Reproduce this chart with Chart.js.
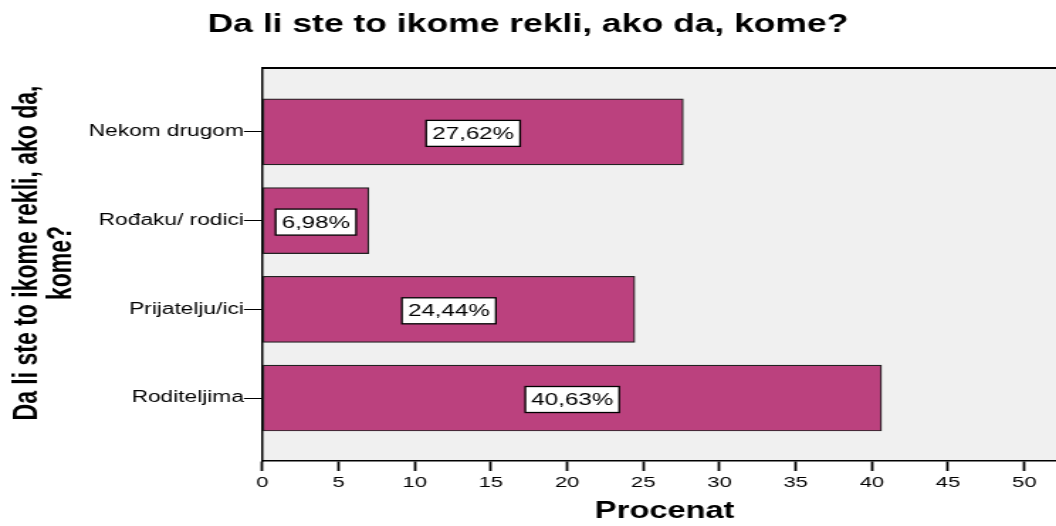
<!DOCTYPE html>
<html>
<head>
<meta charset="utf-8">
<script src="https://cdn.jsdelivr.net/npm/chart.js@4"></script>
<style>
  html, body { margin: 0; padding: 0; background: #ffffff; overflow: hidden; }
  #wrap { width: 744px; height: 526px; transform: scaleX(1.419355); transform-origin: 0 0; }
  #c { display: block; }
</style>
</head>
<body>
<div id="wrap"><canvas id="c" width="744" height="526"></canvas></div>
<script>
// ---- data ----
const categories = ["Nekom drugom", "Rođaku/ rodici", "Prijatelju/ici", "Roditeljima"];
const percentValues = [27.62, 6.98, 24.44, 40.63];
const xTickValues = [0, 5, 10, 15, 20, 25, 30, 35, 40, 45, 50];
const chartTitle = "Da li ste to ikome rekli, ako da, kome?";
const yTitleLines = ["Da li ste to ikome rekli, ako da,", "kome?"];
const xTitle = "Procenat";

const FONT = '"Liberation Sans", Arial, Helvetica, sans-serif';

const decorPlugin = {
  id: 'decor',
  beforeDraw(chart) {
    const { ctx, chartArea: a } = chart;
    ctx.save();
    ctx.fillStyle = '#F0F0F0';
    ctx.fillRect(a.left, a.top, a.right - a.left, a.bottom - a.top);
    ctx.restore();
  },
  afterDraw(chart) {
    const { ctx, chartArea: a } = chart;
    ctx.save();
    // top border
    ctx.strokeStyle = '#000';
    ctx.lineWidth = 2;
    ctx.beginPath();
    ctx.moveTo(a.left - 0.75, a.top);
    ctx.lineTo(a.right, a.top);
    ctx.stroke();
    // main title
    ctx.fillStyle = '#000';
    ctx.font = 'bold 25px ' + FONT;
    ctx.textAlign = 'center';
    ctx.textBaseline = 'alphabetic';
    ctx.fillText(chartTitle, chart.width / 2, 31.7);
    // x axis title
    ctx.font = 'bold 23px ' + FONT;
    ctx.fillText(xTitle, 468.3, 517.7);
    // y axis title (rotated)
    ctx.font = 'bold 23px ' + FONT;
    ctx.save();
    ctx.translate(26, 253);
    ctx.rotate(-Math.PI / 2);
    ctx.fillText(yTitleLines[0], 0, 0);
    ctx.restore();
    ctx.save();
    ctx.translate(50, 263);
    ctx.rotate(-Math.PI / 2);
    ctx.fillText(yTitleLines[1], 0, 0);
    ctx.restore();
    ctx.restore();
  },
  afterDatasetsDraw(chart) {
    const { ctx } = chart;
    const meta = chart.getDatasetMeta(0);
    ctx.save();
    ctx.font = '17px ' + FONT;
    ctx.textAlign = 'center';
    ctx.textBaseline = 'middle';
    meta.data.forEach((el, i) => {
      const v = percentValues[i];
      const txt = v.toFixed(2).replace('.', ',') + '%';
      const cx = (el.x + el.base) / 2;
      const cy = el.y + 1.5;
      const w = ctx.measureText(txt).width + 8.5;
      const h = 26;
      ctx.fillStyle = '#fff';
      ctx.fillRect(cx - w / 2, cy - h / 2, w, h);
      ctx.strokeStyle = '#000';
      ctx.lineWidth = 1.3;
      ctx.strokeRect(cx - w / 2, cy - h / 2, w, h);
      ctx.fillStyle = '#000';
      ctx.fillText(txt, cx, cy + 1);
    });
    ctx.restore();
  }
};

new Chart(document.getElementById('c'), {
  type: 'bar',
  data: {
    datasets: [{
      data: percentValues.map((v, i) => ({ x: v, y: i })),
      backgroundColor: 'rgb(187,65,126)',
      borderColor: '#222',
      borderWidth: 1.2,
      borderSkipped: false,
      barThickness: 66
    }]
  },
  options: {
    indexAxis: 'y',
    responsive: false,
    animation: false,
    devicePixelRatio: 1,
    layout: { padding: { top: 68, left: 0, right: 0, bottom: 0 } },
    plugins: {
      legend: { display: false },
      tooltip: { enabled: false },
      title: { display: false }
    },
    scales: {
      x: {
        type: 'linear',
        min: 0,
        max: 52.08,
        offset: false,
        afterBuildTicks(scale) { scale.ticks = xTickValues.map(v => ({ value: v })); },
        afterFit(scale) { scale.height = 65; },
        ticks: {
          color: '#000',
          font: { family: FONT, size: 15.5 },
          padding: 2,
          maxRotation: 0,
          callback: (v) => String(v)
        },
        grid: {
          display: true,
          offset: false,
          drawOnChartArea: false,
          drawTicks: true,
          tickLength: 10,
          tickWidth: 1.8,
          tickColor: '#000'
        },
        border: { display: true, color: '#000', width: 1.5 }
      },
      y: {
        type: 'linear',
        reverse: true,
        min: -0.72,
        max: 3.71,
        offset: false,
        afterBuildTicks(scale) { scale.ticks = categories.map((c, i) => ({ value: i })); },
        afterFit(scale) { scale.width = 184.8; },
        ticks: {
          color: '#000',
          font: { family: FONT, size: 16 },
          padding: 0,
          callback: (v) => categories[v]
        },
        grid: {
          display: true,
          offset: false,
          drawOnChartArea: false,
          drawTicks: true,
          tickLength: 13,
          tickWidth: 1,
          tickColor: '#000'
        },
        border: { display: true, color: '#000', width: 1.5 }
      }
    }
  },
  plugins: [decorPlugin]
});
</script>
</body>
</html>
